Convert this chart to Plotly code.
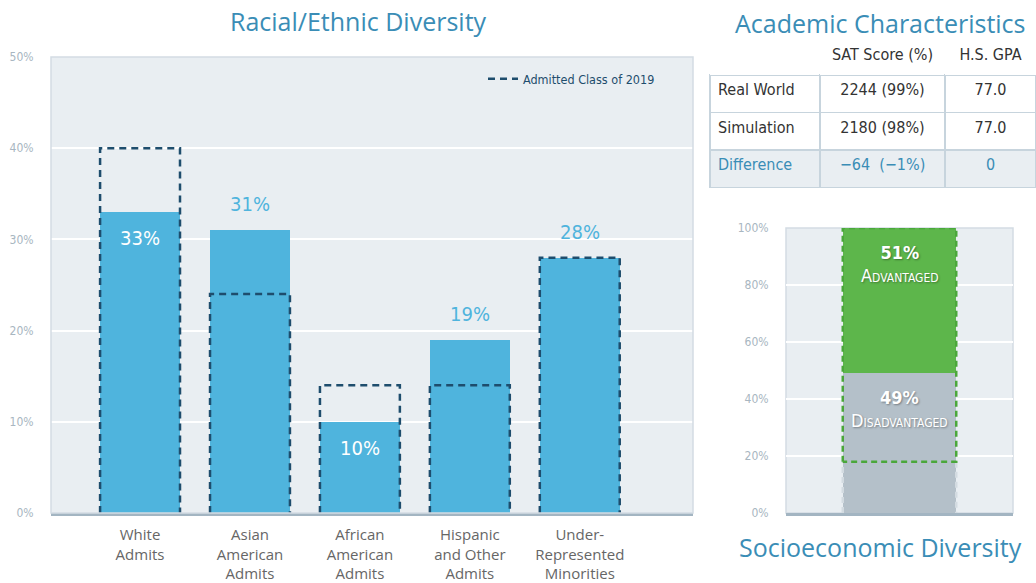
import plotly.graph_objects as go

# ---------------- data ----------------
categories = ["White<br>Admits", "Asian<br>American<br>Admits", "African<br>American<br>Admits",
              "Hispanic<br>and Other<br>Admits", "Under-<br>Represented<br>Minorities"]
simulation_pct = [33, 31, 10, 19, 28]
admitted_2019_pct = [40, 24, 14, 14, 28]
left_ticks = [0, 10, 20, 30, 40, 50]

table_rows = ["Real World", "Simulation", "Difference"]
table_sat = ["2244 (99%)", "2180 (98%)", "\u221264  (\u22121%)"]
table_gpa = ["77.0", "77.0", "0"]
table_header = ["", "SAT Score (%)", "H.S. GPA"]

socio_groups = ["Disadvantaged", "Advantaged"]
socio_sim_pct = [49, 51]
socio_2019_pct = [18, 82]
right_ticks = [0, 20, 40, 60, 80, 100]

# ---------------- styles ----------------
W, H = 1036, 583
BLUE = "#4fb4dd"
NAVY = "#1e4d6d"
TITLE = "#3a8db6"
BG = "#e9eef2"
TICK = "#a8b6c1"
GREEN = "#5db64b"
GREEN_D = "#4aa73a"
GRAY = "#b4c0c9"
COND = "DejaVu Sans Condensed, DejaVu Sans, sans-serif"
GEO = "Open Sans, Lato, sans-serif"

def px_x(p):
    return p / W

def px_y(p):
    return 1 - p / H

fig = go.Figure()

n = len(categories)
idx = list(range(n))
bw = 0.727

fig.add_trace(go.Bar(x=idx, y=simulation_pct, width=bw, marker=dict(color=BLUE, line=dict(width=0)),
                     showlegend=False, hoverinfo="skip", xaxis="x", yaxis="y"))

ox, oy = [], []
for i, v in enumerate(admitted_2019_pct):
    ox += [i - bw / 2, i - bw / 2, i + bw / 2, i + bw / 2, None]
    oy += [0, v, v, 0, None]
fig.add_trace(go.Scatter(x=ox, y=oy, mode="lines", name="Admitted Class of 2019",
                         line=dict(color=NAVY, width=2.5, dash="7px,5px"),
                         xaxis="x", yaxis="y", hoverinfo="skip"))

annotations = []
for i, (v, o) in enumerate(zip(simulation_pct, admitted_2019_pct)):
    inside = o > v
    annotations.append(dict(x=i, y=v, xref="x", yref="y", text=f"{v}%", showarrow=False,
                            xanchor="center",
                            yanchor="top" if inside else "bottom", yshift=-12 if inside else 12,
                            font=dict(family=COND, size=20, color="white" if inside else BLUE)))

# right chart: stacked
socio_colors = [GRAY, GREEN]
for g, v, c in zip(socio_groups, socio_sim_pct, socio_colors):
    fig.add_trace(go.Bar(x=[0], y=[v], width=1.0, marker=dict(color=c, line=dict(width=0)),
                         name=g, showlegend=False, hoverinfo="skip", xaxis="x2", yaxis="y2"))

# outlines for 2019 in socio chart
base = 0
outline_colors = ["#d3dbe1", GREEN_D]
for k, (v, c) in enumerate(zip(socio_2019_pct, outline_colors)):
    top = base + v
    if k == 0:
        sx, sy = [-0.5, -0.5, None, 0.5, 0.5], [base, top, None, top, base]
    else:
        sx, sy = [-0.5, -0.5, 0.5, 0.5, -0.5], [base, top, top, base, base]
    fig.add_trace(go.Scatter(x=sx, y=sy, mode="lines", showlegend=False, hoverinfo="skip",
                             line=dict(color=c, width=2.5, dash="6px,4px"), xaxis="x2", yaxis="y2"))
    base = top

cum = 0
for g, v in zip(socio_groups, socio_sim_pct):
    top = cum + v
    annotations.append(dict(x=0, y=top, xref="x2", yref="y2", showarrow=False, yanchor="top",
                            xanchor="center", yshift=-12,
                            text=f"<b>{v}%</b><br>{g[0].upper()}<span style='font-size:12px'>{g[1:].upper()}</span>",
                            font=dict(family=COND, size=18, color="white",
                                      shadow="1px 1px 2px rgba(0,0,0,0.35)"),
                            align="center"))
    cum = top

# titles
title_font = dict(family=GEO, size=25, color=TITLE)
annotations += [
    dict(x=px_x(358), y=px_y(21), xref="paper", yref="paper", text="Racial/Ethnic Diversity",
         xanchor="center", yanchor="middle", showarrow=False, font=title_font),
    dict(x=px_x(880), y=px_y(23), xref="paper", yref="paper", text="Academic Characteristics",
         xanchor="center", yanchor="middle", showarrow=False, font=title_font),
    dict(x=px_x(880), y=px_y(547), xref="paper", yref="paper", text="Socioeconomic Diversity",
         xanchor="center", yanchor="middle", showarrow=False, font=title_font),
]

# table
body_color = "#333333"
fig.add_trace(go.Table(
    domain=dict(x=[px_x(710), 1.0], y=[px_y(205), px_y(40)]),
    columnwidth=[110, 125, 91],
    header=dict(values=table_header, fill_color="white", line=dict(color="white", width=0),
                align=["left", "center", "center"], height=35,
                font=dict(family=COND, size=16, color=body_color)),
    cells=dict(values=[table_rows, table_sat, table_gpa],
               fill_color=[["white", "white", BG]] * 3,
               line=dict(color="#c7d4dd", width=1.5),
               align=["left", "center", "center"], height=37.5,
               font=dict(family=COND, size=16,
                         color=[[body_color, body_color, TITLE]] * 3)),
))

shapes = [
    dict(type="rect", xref="x domain", yref="y domain", x0=0, x1=1, y0=0, y1=1,
         line=dict(color="#d3dce3", width=1.5), layer="above"),
    dict(type="rect", xref="x2 domain", yref="y2 domain", x0=0, x1=1, y0=0, y1=1,
         line=dict(color="#d3dce3", width=1.5), layer="below"),
]

fig.update_layout(
    width=W, height=H, margin=dict(l=0, r=0, t=0, b=0, autoexpand=False),
    paper_bgcolor="white", plot_bgcolor=BG,
    barmode="stack", bargap=0,
    annotations=annotations, shapes=shapes,
    showlegend=True,
    legend=dict(x=px_x(660), y=px_y(64), xanchor="right", yanchor="top", bgcolor="rgba(0,0,0,0)",
                font=dict(family=COND, size=12.5, color=NAVY), itemwidth=30),
    xaxis=dict(domain=[px_x(51), px_x(693)], range=[-0.81, 5.03], tickvals=idx, ticktext=categories,
               showgrid=False, zeroline=False, showline=True, linecolor="#a3b5c2", linewidth=3,
               ticks="outside", ticklen=6, tickcolor="rgba(0,0,0,0)", automargin=False,
               tickfont=dict(family=GEO, size=15, color="#666666"), fixedrange=True),
    yaxis=dict(domain=[px_y(513), px_y(57)], range=[0, 50], tickvals=left_ticks,
               ticktext=[f"{t}%" for t in left_ticks], showgrid=True, gridcolor="white", gridwidth=1.5,
               zeroline=False, ticks="outside", ticklen=14, tickcolor="rgba(0,0,0,0)", automargin=False,
               tickfont=dict(family=COND, size=12, color=TICK), fixedrange=True),
    xaxis2=dict(domain=[px_x(786), px_x(1013)], range=[-1, 1], showticklabels=False, showgrid=False,
                zeroline=False, showline=True, linecolor="#a3b5c2", linewidth=3, anchor="y2",
                automargin=False, fixedrange=True),
    yaxis2=dict(domain=[px_y(513), px_y(228)], range=[0, 100], tickvals=right_ticks,
                ticktext=[f"{t}%" for t in right_ticks], showgrid=True, gridcolor="white", gridwidth=1.5,
                zeroline=False, ticks="outside", ticklen=14, tickcolor="rgba(0,0,0,0)", anchor="x2",
                automargin=False, fixedrange=True, tickfont=dict(family=COND, size=12, color=TICK)),
)

fig.write_html("out.html", config={"displayModeBar": False},
               post_script="document.body.style.margin='0';")
